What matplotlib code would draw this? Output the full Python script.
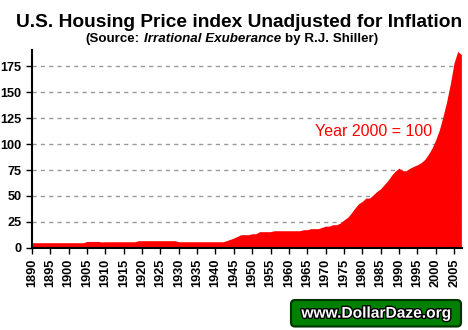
import numpy as np
import matplotlib
matplotlib.use('Agg')
import matplotlib.pyplot as plt
import matplotlib.patheffects as pe
from matplotlib.patches import FancyBboxPatch
from matplotlib.offsetbox import TextArea, HPacker, AnchoredOffsetbox

plt.rcParams['font.family'] = ['Liberation Sans', 'DejaVu Sans']

# Shiller nominal home price index, year 2000 = 100
years = np.arange(1890, 2008)
index = [5.1, 5.1, 5.1, 5.1, 5.1, 5.1, 5.1, 5.1, 5.1, 5.1,      # 1890s
         5.1, 5.1, 5.1, 5.1, 5.1, 6.3, 6.3, 6.3, 6.3, 5.8,      # 1900s
         6.0, 6.0, 6.0, 6.0, 6.0, 6.0, 6.0, 6.0, 6.0, 7.0,      # 1910s
         7.0, 7.0, 7.0, 7.0, 7.0, 7.0, 7.0, 7.0, 7.0, 7.0,      # 1920s
         6.0, 6.0, 6.0, 6.0, 6.0, 6.0, 6.0, 6.0, 6.0, 6.0,      # 1930s
         6.0, 6.0, 6.0, 7.0, 8.3, 9.6, 11.3, 12.8, 12.8, 12.8,  # 1940s
         13.7, 13.7, 15.7, 15.7, 15.7, 15.7, 16.6, 16.6, 16.6, 16.6,  # 1950s
         16.6, 16.6, 16.6, 16.6, 17.6, 17.6, 18.6, 18.6, 18.6, 19.8,  # 1960s
         21.0, 21.0, 22.4, 22.4, 24.0, 27.0, 29.4, 33.6, 38.4, 42.6,  # 1970s
         44.8, 48.0, 48.0, 51.2, 54.4, 57.0, 61.0, 65.0, 70.0, 74.0,  # 1980s
         76.8, 74.3, 74.3, 76.8, 78.5, 80.0, 82.0, 85.0, 90.0, 96.0,  # 1990s
         104.0, 113.5, 126.5, 141.0, 158.0, 178.0, 189.0, 186.0]      # 2000s
tick_years = np.arange(1890, 2006, 5)
y_ticks = [0, 25, 50, 75, 100, 125, 150, 175]

fig = plt.figure(figsize=(4.68, 3.30), dpi=100)
ax = fig.add_axes([0.0684, 0.2485, 0.919, 0.6])

ax.fill_between(years, index, 0, color='#ff0000', lw=0, zorder=2)

ax.set_xlim(1890, 2007.2)
ax.set_ylim(0, 190.4)
ax.set_xticks(tick_years)
ax.set_xticklabels([str(y) for y in tick_years], rotation=90,
                   fontsize=9.2, fontweight='bold')
ax.set_yticks(y_ticks)
ax.set_yticklabels([str(v) for v in y_ticks], fontsize=9.2, fontweight='bold')
ax.tick_params(length=4, width=1, pad=3.5, direction='out')

ax.grid(axis='y', color='#999999', linestyle=(0, (3, 3)), lw=1)
ax.set_axisbelow(True)
for s in ['top', 'right']:
    ax.spines[s].set_visible(False)
for s in ['left', 'bottom']:
    ax.spines[s].set_linewidth(1.5)
    ax.spines[s].set_zorder(5)

ax.text(1983, 112.5, 'Year 2000 = 100', color='#ff0000', fontsize=11.5,
        ha='center', va='center')

# titles
fig.text(0.51, 0.918, 'U.S. Housing Price index Unadjusted for Inflation',
         ha='center', va='baseline', fontsize=13.8, fontweight='bold')

parts = [TextArea('(Source:', textprops=dict(fontsize=9.6, fontweight='bold')),
         TextArea('Irrational Exuberance',
                  textprops=dict(fontsize=9.6, fontweight='bold', fontstyle='italic')),
         TextArea('by R.J. Shiller)', textprops=dict(fontsize=9.6, fontweight='bold'))]
pack = HPacker(children=parts, align='baseline', pad=0, sep=2.7)
sub = AnchoredOffsetbox(loc='center', child=pack, pad=0, borderpad=0, frameon=False,
                        bbox_to_anchor=(0.495, 0.883), bbox_transform=fig.transFigure)
fig.add_artist(sub)

# watermark box
box = FancyBboxPatch((2.91, 0.035), 1.70, 0.265,
                     boxstyle='round,pad=0,rounding_size=0.04',
                     transform=fig.dpi_scale_trans, facecolor='#008000',
                     edgecolor='#003300', lw=1.5)
fig.add_artist(box)
fig.text(0.803, 0.051, 'www.DollarDaze.org', ha='center', va='center',
         fontsize=11.2, fontweight='bold', color='white',
         path_effects=[pe.withStroke(linewidth=2, foreground='black')])

fig.savefig('out.png', dpi=100)
